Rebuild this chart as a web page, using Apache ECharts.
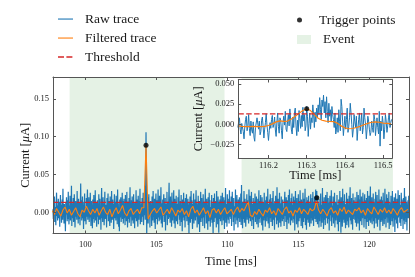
<!DOCTYPE html>
<html><head><meta charset="utf-8">
<script src="https://cdn.jsdelivr.net/npm/echarts@6/dist/echarts.min.js"></script>
<style>html,body{margin:0;padding:0;background:#fff}#c{width:415px;height:277px}</style>
</head><body><div id="c"></div>
<script>
// ---------- data (currents in nA, i.e. µA x 1000) ----------
const rawStart = 97.72, rawStep = 0.025;   // ms, sampling of raw trace (25 samples per row)
const rawTrace_nA = [
  4,-9,15,-2,21,-13,7,0,-17,12,26,-5,9,-11,3,18,-8,-1,14,-19,6,23,-4,10,-14,
  2,17,-10,31,-6,8,-15,11,1,-7,-25,13,-3,20,5,-12,16,-9,27,0,-16,9,-2,22,-11,
  7,-4,35,-18,12,3,-8,19,-13,6,24,-1,-20,10,15,-6,4,-10,28,-3,11,-15,18,2,-9,
  13,-17,6,38,-5,16,-11,1,21,-8,9,-22,14,-2,25,-12,7,3,-16,19,-6,12,30,-10,4,
  -3,20,-13,8,-7,26,2,-18,15,-1,10,-21,17,5,-9,23,-14,6,-4,29,-11,13,0,-19,9,
  16,-6,11,-16,24,3,-10,18,-2,7,-23,14,32,-8,4,-13,20,-5,12,-17,1,27,-9,8,-3,
  10,-20,19,-4,6,25,-12,2,15,-7,-18,21,-1,9,-14,28,3,-10,17,-6,11,-22,5,24,-8,
  1,14,-11,22,-5,8,-16,30,-3,12,-19,6,-25,17,-7,10,20,-13,4,-2,26,-9,15,-15,7,
  18,-8,3,-17,23,-4,11,-12,27,0,-20,14,6,-9,19,-14,9,33,-6,2,-18,16,-1,21,-11,
  5,-15,24,-3,10,-21,13,1,-8,29,-12,7,17,-5,-19,22,4,-10,15,-2,31,-16,8,-7,12,
  -13,19,2,-6,26,-17,9,14,-4,35,-10,30,106,52,-31,11,-5,20,-15,3,24,-8,13,-20,7,
  15,-2,9,-18,21,4,-11,28,-6,12,-14,18,-1,-22,8,25,-9,5,16,-16,2,30,-7,10,-12,
  22,-10,6,-3,33,-15,12,1,-20,17,-5,9,24,-13,3,-8,19,-24,11,6,-4,27,-17,14,0,
  -9,16,39,-7,4,-14,21,-2,10,-19,26,8,-11,13,-6,29,-15,2,18,-21,7,-3,22,-12,5,
  11,-16,20,-4,8,30,-10,3,-18,15,-1,23,-13,6,-25,17,9,-7,26,-11,1,14,-20,19,-5,
  2,24,-12,7,-8,18,-17,10,-30,13,-3,21,-14,5,28,-9,16,-6,-22,11,3,25,-15,8,-1,
  17,-11,4,29,-6,12,-20,9,-2,22,-16,6,15,-26,10,-4,27,-13,3,19,-8,13,-18,24,0,
  -7,14,-21,8,31,-3,11,-15,18,-9,5,-23,20,1,-12,26,-5,16,-19,7,2,-10,23,-14,12,
  -6,-29,19,4,-13,25,-8,15,-1,10,-20,28,-4,9,-16,21,3,-27,14,-9,17,6,-12,22,-3,
  8,-17,26,-5,13,-11,20,0,-22,16,-7,32,-14,4,11,-19,24,-2,7,-10,18,-15,29,-6,1,
  14,-9,21,-18,5,27,-3,10,-13,19,-24,8,2,-7,30,-16,12,-1,23,-11,6,-20,17,4,-8,
  20,-13,9,-2,25,-17,36,-6,11,-21,14,3,-9,28,-14,7,18,-4,-19,13,1,24,-10,16,-5,
  9,-15,30,5,-8,22,-12,17,-3,27,-18,11,6,-10,19,-22,14,2,-6,25,-13,8,-1,21,-16,
  12,-4,18,-20,7,29,-9,15,-14,3,23,-7,10,-17,20,-2,-24,13,6,-11,26,-5,9,-19,16,
  -3,21,-12,8,-6,31,-15,11,1,-21,17,-8,24,4,-13,14,-1,19,-18,7,28,-10,12,-4,-23,
  15,-7,22,-2,10,-16,33,-11,5,18,-20,9,-3,26,-14,12,0,-19,21,-6,8,-12,17,3,-9,
  6,-18,14,27,-5,11,-13,20,-1,-22,16,8,-10,23,-15,4,30,-7,13,-17,2,19,-11,25,-4,
  10,-14,3,21,-9,16,-24,7,28,-3,12,-16,19,-6,5,-20,24,1,-12,15,-8,29,-2,9,-18,
  17,-5,11,-21,26,2,-13,18,-8,6,31,-17,13,-1,-23,20,4,-10,16,-14,22,-3,8,-19,14,
  -2,24,-15,9,-7,19,-11,27,3,-18,14,-4,21,-9,6,30,-13,11,28,6,-16,22,-5,12,-20,
  8,-12,18,-3,25,-19,10,1,-14,32,-6,15,-22,7,20,-10,4,-17,23,-1,13,-8,27,-15,5,
  19,-9,13,-24,6,22,-4,16,-12,29,-18,9,2,-7,21,-15,11,-2,26,-20,7,14,-11,3,-5,
  23,-16,10,-1,-25,17,5,-13,28,-8,12,-27,20,-4,8,-19,31,-10,15,0,-14,24,-6,9,-21,
  11,-3,26,-17,7,18,-12,4,-20,22,-7,14,33,-11,1,-16,19,-5,10,-23,25,-9,16,-2,6,
  -10,20,-14,12,2,-19,27,-6,9,-15,23,-3,17,-24,5,30,-12,8,-1,21,-17,13,-8,26,0,
  14,-20,7,24,-9,16,-4,-22,19,3,-13,28,-7,11,-18,22,1,-11,15,34,-14,6,-3,20,-16,
  9,-6,25,-12,13,-21,4,18,-8,27,-15,10,-2,23,-19,6,14,-10,30,-5,12,-24,17,2,-13,
  21,-11,5,16,-18,26,-3,11,-16,8,31,-9,14,-20,3,24,-7,19,-14,10,-1,27,-22,7,-6,
  13,-17,22,-4,9,-12,28,1,-19,15,-8,20,-2,-26,11,25,-10,6,-15,18,4,-21,29,-7,12,
  -5,23,-14,10,0,-18,26,-9,17,-3,12,-22,19,5,-11,32,-16,8,-6,21,-13,14,-24,9,3,
  16,-8,22,-1
];
const filtStart = 97.67, filtStep = 0.15;  // ms, sampling of filtered trace
const filteredTrace_nA = [
  2,-3,5,0,-5,3,7,-1,4,-4,1,6,-2,-6,3,0,8,2,-3,4,
  -1,5,-4,2,7,0,-3,4,-6,1,6,-2,3,9,-1,-5,2,5,-3,1,
  4,-2,6,6,89,-9,-3,2,5,-1,3,7,-4,0,4,-2,6,1,-5,3,
  0,5,-3,2,-6,4,8,-1,3,-4,1,6,-2,2,-7,3,5,-1,4,-3,
  2,6,-2,1,4,-3,3,7,0,5,2,8,14,-4,-6,1,-3,4,-1,-5,
  3,0,6,-2,2,-4,5,1,-3,4,7,-1,2,-5,3,0,6,-2,4,1,
  -3,5,2,4,15,3,-2,4,0,-5,3,6,-1,2,-4,5,1,7,-2,3,
  0,-3,4,2,6,-1,3,-4,5,1,-2,7,2,-3,4,0,6,-1,3,-2,
  5,1,-4,3,6,0,2,4
];
const threshold = 0.013;                    // µA
const triggerTimes = [104.27, 116.30];      // ms
const triggerValues = [0.0886, 0.0192];     // µA
const eventSpans = [[98.89, 109.80], [111.00, 121.66]];

const insetRawStart = 116.12, insetRawStep = 0.002;  // 20 samples per row
const insetRaw_nA = [
  -4,3,8,-6,-12,1,2,-9,-18,-3,6,10,-8,-2,12,-5,-14,4,-7,-11,
  3,-16,-21,-4,-2,8,10,-6,4,-13,-9,5,9,-3,-17,-6,2,13,-1,-10,
  -20,-8,2,-5,6,11,-4,0,9,-7,-15,3,14,-3,-11,8,5,-8,-18,2,
  10,-1,16,-6,-9,4,12,-2,19,6,-7,-12,9,-4,14,20,-2,-14,5,-9,
  17,7,-5,11,-3,21,4,12,-8,-2,22,10,-15,1,14,-6,8,2,24,12,
  -4,15,3,20,9,24,12,33,18,6,30,22,36,14,28,8,34,16,2,26,
  10,18,4,22,12,6,-4,14,-12,-6,8,-10,18,3,-8,31,22,4,-14,-2,
  10,-6,6,20,-10,-3,8,26,14,0,-16,-6,12,3,-4,10,-20,-6,6,14,
  -8,2,14,-12,-4,20,8,0,-18,-6,10,4,-6,-14,-10,4,-4,-10,12,6,
  -14,-2,8,-4,-12,16,-27,4,-8,10,2,-18,-6,12,4,-10,-2,8,14,-4,
  2,6
];
const insetFiltStart = 116.12, insetFiltStep = 0.01;
const insetFiltered_nA = [
  -2,-2.5,-2.8,-2.8,-2.7,-2.8,-2.8,-2.6,-1.5,0.5,3,4.3,3.5,4,6.5,10,13.5,17,19.2,17,
  12,7.5,5,4,3.5,3.4,1.5,-2,-4.5,-5.5,-5.2,-4,-2.5,-0.5,1.2,2.5,3,2.5,1.5,1.2,0.8
];

const mainXTicks = [100, 105, 110, 115, 120];
const mainYTicks = [0, 0.05, 0.10, 0.15];
const insetXTicks = [116.2, 116.3, 116.4, 116.5];
const insetYTicks = [-0.025, 0, 0.025, 0.05];

// ---------- build ----------
const toPairs = (arr, t0, dt) => arr.map((v, i) => [+(t0 + i * dt).toFixed(4), v / 1000]);
const rawPairs = toPairs(rawTrace_nA, rawStart, rawStep);
const filtPairs = toPairs(filteredTrace_nA, filtStart, filtStep);
const insetRawPairs = toPairs(insetRaw_nA, insetRawStart, insetRawStep);
const insetFiltPairs = toPairs(insetFiltered_nA, insetFiltStart, insetFiltStep);

const FONT = 'Liberation Serif';
const AX = '#555';
const TXT = '#1a1a1a';
const mainX = [97.72, 122.79], mainY = [-0.0281, 0.1791];
const insX = [116.121, 116.524], insY = [-0.0417, 0.0554];

function xAx(grid, range, ticks, pos, labels, fmt, z, margin) {
  return {
    type: 'value', gridIndex: grid, position: pos, min: range[0], max: range[1], z: z,
    axisLine: { show: true, onZero: false, lineStyle: { color: AX, width: 1 } },
    axisTick: { show: true, inside: true, length: 3, customValues: ticks, lineStyle: { color: AX } },
    axisLabel: { show: labels, customValues: ticks, formatter: fmt, margin: margin, fontSize: 8.5, color: TXT, fontFamily: FONT },
    splitLine: { show: false }
  };
}
function yAx(grid, range, ticks, pos, labels, fmt, z) {
  return {
    type: 'value', gridIndex: grid, position: pos, min: range[0], max: range[1], z: z,
    axisLine: { show: true, onZero: false, lineStyle: { color: AX, width: 1 } },
    axisTick: { show: true, inside: true, length: 3, customValues: ticks, lineStyle: { color: AX } },
    axisLabel: { show: labels, customValues: ticks, formatter: fmt, margin: 4, fontSize: 8.5, color: TXT, fontFamily: FONT },
    splitLine: { show: false }
  };
}
const nameStyle = { fontFamily: FONT, fontSize: 12.5, color: TXT,
  rich: { t: { fontFamily: FONT, fontSize: 12.5, color: TXT }, m: { fontFamily: FONT, fontSize: 12.5, fontStyle: 'italic', color: TXT } } };
const yName = '{t|Current [}{m|μ}{t|A]}';
const fmtInt = v => String(Math.round(v));
const fmt2 = v => v.toFixed(2);
const fmt1 = v => v.toFixed(1);
const fmt3 = v => (v < -1e-9 ? '−' : '') + Math.abs(v).toFixed(3);

const xMainB = xAx(0, mainX, mainXTicks, 'bottom', true, fmtInt, 3, 7);
Object.assign(xMainB, { name: 'Time [ms]', nameLocation: 'middle', nameGap: 22, nameMoveOverlap: false, nameTextStyle: nameStyle });
const yMainL = yAx(0, mainY, mainYTicks, 'left', true, fmt2, 3);
Object.assign(yMainL, { name: yName, nameLocation: 'middle', nameGap: 21, nameMoveOverlap: false, nameTextStyle: nameStyle });
const xInsB = xAx(1, insX, insetXTicks, 'bottom', true, fmt1, 6, 3);
Object.assign(xInsB, { name: 'Time [ms]', nameLocation: 'middle', nameGap: 11, nameMoveOverlap: false, nameTextStyle: nameStyle });
const yInsL = yAx(1, insY, insetYTicks, 'left', true, fmt3, 6);
Object.assign(yInsL, { name: yName, nameLocation: 'middle', nameGap: 33, nameMoveOverlap: false, nameTextStyle: nameStyle });

const legendText = { fontFamily: FONT, fontSize: 13.5, color: TXT, lineHeight: 16, padding: [0, 0, 0, 7] };
// legend handles: a 15x10 box holding a thin solid line or two dashes
const lineIcon = 'path://M0,0M15,10M0,4.5L15,4.5L15,5.6L0,5.6Z';
const dashIcon = 'path://M0,0M15,10M0,4.3L6,4.3L6,5.7L0,5.7ZM8.4,4.3L14.4,4.3L14.4,5.7L8.4,5.7Z';

const option = {
  animation: false,
  backgroundColor: '#fff',
  grid: [
    { left: 53, top: 77, right: 6, bottom: 43.5, show: false },
    { left: 238.3, top: 79.5, width: 154, height: 78.5, show: true, backgroundColor: '#fff', borderWidth: 0, z: 4 }
  ],
  xAxis: [xMainB, xAx(0, mainX, mainXTicks, 'top', false, fmtInt, 3, 5), xInsB, xAx(1, insX, insetXTicks, 'top', false, fmt1, 6, 5)],
  yAxis: [yMainL, yAx(0, mainY, mainYTicks, 'right', false, fmt2, 3), yInsL, yAx(1, insY, insetYTicks, 'right', false, fmt3, 6)],
  legend: [
    { data: [{ name: 'Raw trace', icon: lineIcon }, { name: 'Filtered trace', icon: lineIcon }, { name: 'Threshold', icon: dashIcon }],
      orient: 'vertical', left: 58, top: 11, padding: 0,
      itemWidth: 15, itemHeight: 10, itemGap: 3, textStyle: legendText },
    { data: [{ name: 'Trigger points', icon: 'circle' }], orient: 'vertical', left: 297, top: 12, padding: 0,
      itemWidth: 15, itemHeight: 5, textStyle: legendText },
    { data: [{ name: 'Event', icon: 'rect' }], orient: 'vertical', left: 297, top: 31.5, padding: 0,
      itemWidth: 14, itemHeight: 9, textStyle: legendText }
  ],
  series: [
    { name: 'Event', type: 'line', xAxisIndex: 0, yAxisIndex: 0, data: [], z: 1, color: '#e5f2e5', symbol: 'none',
      markArea: { silent: true, itemStyle: { color: 'rgba(0,128,0,0.1)' },
        data: eventSpans.map(s => [{ xAxis: s[0] }, { xAxis: s[1] }]) } },
    { name: 'Raw trace', type: 'line', xAxisIndex: 0, yAxisIndex: 0, data: rawPairs, symbol: 'none', z: 2,
      color: '#1f77b4', lineStyle: { color: '#1f77b4', width: 1.2 } },
    { name: 'Filtered trace', type: 'line', xAxisIndex: 0, yAxisIndex: 0, data: filtPairs, symbol: 'none', z: 2,
      color: '#ff7f0e', lineStyle: { color: '#ff7f0e', width: 1.1 } },
    { name: 'Threshold', type: 'line', xAxisIndex: 0, yAxisIndex: 0, data: [[mainX[0], threshold], [mainX[1], threshold]],
      symbol: 'none', z: 2, color: '#d62728', lineStyle: { color: '#d62728', width: 1.3, type: [5.5, 2.4] } },
    { name: 'Trigger points', type: 'scatter', xAxisIndex: 0, yAxisIndex: 0, z: 3,
      data: triggerTimes.map((t, i) => [t, triggerValues[i]]), symbolSize: 5, color: '#000' },
    // inset
    { name: 'Raw trace', type: 'line', xAxisIndex: 2, yAxisIndex: 2, data: insetRawPairs, symbol: 'none', z: 5,
      color: '#1f77b4', lineStyle: { color: '#1f77b4', width: 1 } },
    { name: 'Filtered trace', type: 'line', xAxisIndex: 2, yAxisIndex: 2, data: insetFiltPairs, symbol: 'none', z: 5,
      color: '#ff7f0e', lineStyle: { color: '#ff7f0e', width: 1.2 } },
    { name: 'Threshold', type: 'line', xAxisIndex: 2, yAxisIndex: 2, data: [[insX[0], threshold], [insX[1], threshold]],
      symbol: 'none', z: 5, color: '#d62728', lineStyle: { color: '#d62728', width: 1.3, type: [5.5, 2.4] } },
    { name: 'Trigger points', type: 'scatter', xAxisIndex: 2, yAxisIndex: 2, z: 6,
      data: [[triggerTimes[1], triggerValues[1]]], symbolSize: 5, color: '#000' }
  ]
};
const chart = echarts.init(document.getElementById('c'), null, { renderer: 'canvas' });
chart.setOption(option);
</script></body></html>
